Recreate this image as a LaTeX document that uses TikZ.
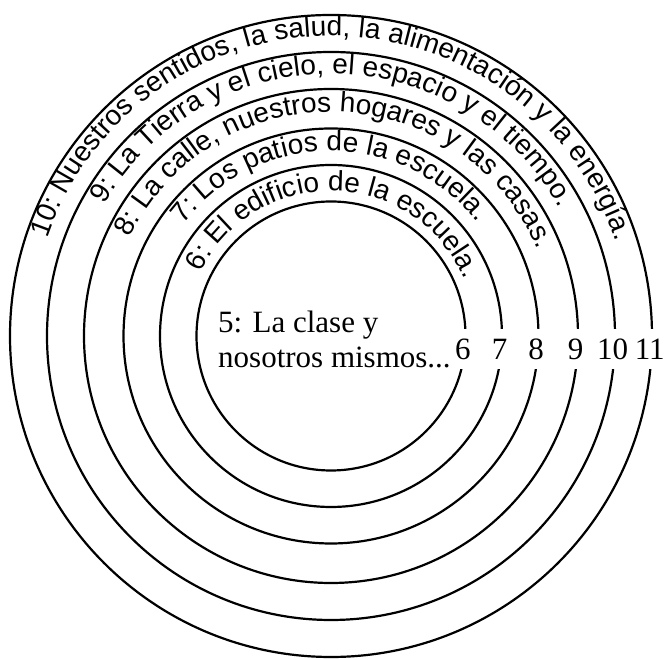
\documentclass[tikz,border=0pt]{standalone}
\usepackage{fontspec}
\setmainfont{Liberation Serif}
\newfontfamily\ringfont{Liberation Sans}
\newcommand\ringsize{\ringfont\fontsize{28}{30}\selectfont}
\usetikzlibrary{decorations.text}

\begin{document}
\begin{tikzpicture}[x=1pt,y=1pt,
  ring/.style={line width=2.2pt},
  num/.style={fill=white,inner xsep=1pt,inner ysep=0pt,minimum height=40pt,font=\fontsize{31}{31}\selectfont},
  lbl/.style={anchor=base west,inner sep=0pt,font=\fontsize{31}{35}\selectfont},
  rt/.style={decorate,decoration={text along path,text align=left,text={|\ringsize|#1}}}]
  \useasboundingbox (0,0) rectangle (667,660);
  \coordinate (c) at (331,324);
  % circles with their numbers
  \foreach \r/\n in {134.5/6,171/7,207.5/8,247/9,284/10,321/11}{
    \draw[ring] (c) circle[radius=\r pt];
    \path (c) ++({10*sqrt((\r/10)^2-1.69)-2},-13) node[num] (n\n) {\n};
  }
  % ring texts
  \path[rt={6: El edificio de la escuela.}] (c) ++(154:145) arc[start angle=154,end angle=10,radius=145pt];
  \path[rt={7: Los patios de la escuela.}] (c) ++(143:185) arc[start angle=143,end angle=20,radius=185pt];
  \path[rt={8: La calle, nuestros hogares y las casas.}] (c) ++(154:224) arc[start angle=154,end angle=10,radius=224pt];
  \path[rt={9: La Tierra y el cielo, el espacio y el tiempo.}] (c) ++(150:262) arc[start angle=150,end angle=15,radius=262pt];
  \path[rt={10: Nuestros sentidos, la salud, la alimentación y la energía.}] (c) ++(161:300) arc[start angle=161,end angle=8,radius=300pt];
  % centre
  \node[lbl] (five) at (218,327) {5: La clase y};
  \node[lbl] (mis) at (218,292) {nosotros mismos...};
\end{tikzpicture}
\end{document}
